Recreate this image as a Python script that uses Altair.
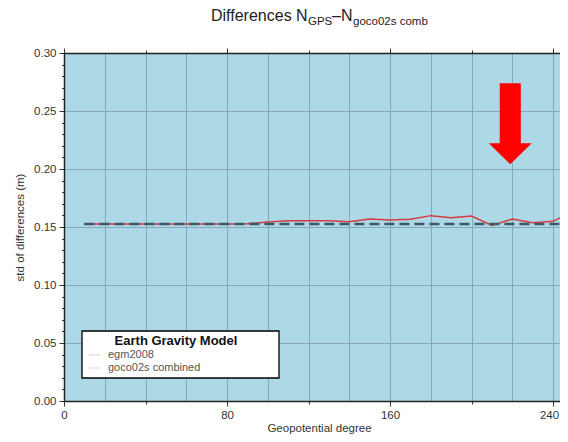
import altair as alt
import pandas as pd

# ---- data ----
degrees = [10, 20, 30, 40, 50, 60, 70, 80, 90, 100, 110, 120, 130, 140, 150, 160,
           170, 180, 190, 200, 210, 220, 230, 240, 250]
goco02s = [0.1526, 0.1526, 0.1526, 0.1526, 0.1526, 0.1526, 0.1526, 0.1526, 0.1528,
           0.1543, 0.1554, 0.1554, 0.1554, 0.1546, 0.1569, 0.1560, 0.1566, 0.1598,
           0.1580, 0.1595, 0.1514, 0.1569, 0.1537, 0.1549, 0.1640]
egm2008 = [0.1526] * len(degrees)

series_names = ["egm2008", "goco02s combined"]
legend_title = "Earth Gravity Model"
arrow_deg = [219]
arrow_std = [0.239]

x_grid = list(range(0, 241, 20))
y_ticks = [round(i / 100, 2) for i in range(31)]

df_goco = pd.DataFrame({"deg": degrees, "std": goco02s})
df_egm = pd.DataFrame({"deg": degrees, "std": egm2008})
df_arrow = pd.DataFrame({"deg": arrow_deg, "std": arrow_std})

FONT = "Liberation Sans"
TXT = "#333333"
GRID = "#86a8b8"

xscale = alt.Scale(domain=[0, 243.4], nice=False, zero=False)
yscale = alt.Scale(domain=[0, 0.3], nice=False)

x_bottom = alt.Axis(
    values=x_grid, format="d", labelFlush=False,
    labelExpr="datum.value % 80 === 0 ? datum.label : ''",
    labelOffset={"condition": {"test": "datum.value === 240", "value": -4}, "value": 0},
    tickSize={"condition": {"test": "datum.value % 80 === 0", "value": 5}, "value": 3},
    tickOpacity={"condition": {"test": "datum.value % 40 === 0", "value": 1}, "value": 0},
    tickColor="#333", domainColor="#222", domainWidth=1.5,
    grid=True, gridColor=GRID, gridWidth=1,
    labelFont=FONT, labelFontSize=11.5, labelColor=TXT, labelPadding=3,
    title="Geopotential degree", titleFont=FONT, titleFontSize=11.5,
    titleFontWeight="normal", titleColor=TXT,
    titleX=255, titleY=30, titleBaseline="alphabetic", titleAnchor="middle",
)
x_top = alt.Axis(
    orient="top", values=x_grid, labels=False, title=None, grid=False,
    tickSize={"condition": {"test": "datum.value % 80 === 0", "value": 5}, "value": 3},
    tickOpacity={"condition": {"test": "datum.value % 40 === 0", "value": 1}, "value": 0},
    tickColor="#333", domainColor="#222", domainWidth=1.5,
)
y_left = alt.Axis(
    values=y_ticks, format=".2f", labelFlush=False,
    labelExpr="round(datum.value * 100) % 5 === 0 ? datum.label : ''",
    tickSize={"condition": {"test": "round(datum.value * 100) % 5 === 0", "value": 5}, "value": 2.5},
    tickColor="#333", domainColor="#222", domainWidth=1.5,
    grid=True, gridColor=GRID, gridWidth=1,
    gridOpacity={"condition": {"test": "round(datum.value * 100) % 5 === 0", "value": 1}, "value": 0},
    labelFont=FONT, labelFontSize=11.5, labelColor=TXT, labelPadding=3,
    title="std of differences (m)", titleFont=FONT, titleFontSize=11.5,
    titleFontWeight="normal", titleColor=TXT, titlePadding=8,
)

red = alt.Chart(df_goco).mark_line(color="#d63a40", strokeWidth=1.5, clip=True).encode(
    x=alt.X("deg:Q", scale=xscale, axis=x_bottom),
    y=alt.Y("std:Q", scale=yscale, axis=y_left),
)
dash = alt.Chart(df_egm).mark_line(color="#3d5866", strokeWidth=2.5, strokeDash=[10, 5], clip=True).encode(
    x=alt.X("deg:Q", scale=xscale, axis=x_top),
    y=alt.Y("std:Q", scale=yscale, axis=y_left),
)

arrow_path = "M -0.26 -1 L 0.26 -1 L 0.26 0.48 L 0.53 0.48 L 0 1 L -0.53 0.48 L -0.26 0.48 Z"
arrow = alt.Chart(df_arrow).mark_point(
    shape=arrow_path, size=6561, filled=True, color="#ff0000", opacity=1, strokeWidth=0
).encode(
    x=alt.X("deg:Q", scale=xscale, axis=None),
    y=alt.Y("std:Q", scale=yscale, axis=y_left),
)

one = alt.Data(values=[{}])

# legend box (drawn in pixels inside the plot area)
leg_box = alt.Chart(one).mark_rect(fill="white", stroke="black", strokeWidth=1.3).encode(
    x=alt.value(18), x2=alt.value(215), y=alt.value(278), y2=alt.value(325)
)
leg_title = alt.Chart(one).mark_text(
    font=FONT, fontSize=13, fontWeight="bold", color="#111", align="center", baseline="middle"
).encode(x=alt.value(112), y=alt.value(288), text=alt.value(legend_title))
leg_sym1 = alt.Chart(one).mark_rule(color="#d0d0d0", strokeWidth=1).encode(
    x=alt.value(25), x2=alt.value(36), y=alt.value(302)
)
leg_sym2 = alt.Chart(one).mark_rule(color="#f5c8c8", strokeWidth=1).encode(
    x=alt.value(25), x2=alt.value(36), y=alt.value(315)
)
leg_lab1 = alt.Chart(one).mark_text(
    font=FONT, fontSize=11, color="#555", align="left", baseline="middle"
).encode(x=alt.value(44), y=alt.value(302), text=alt.value(series_names[0]))
leg_lab2 = alt.Chart(one).mark_text(
    font=FONT, fontSize=11, color="#555", align="left", baseline="middle"
).encode(x=alt.value(44), y=alt.value(315), text=alt.value(series_names[1]))

# title with subscripts
def ttext(s, x, y, size):
    return alt.Chart(one).mark_text(
        font=FONT, fontSize=size, color="#222", align="left", baseline="alphabetic"
    ).encode(x=alt.value(x), y=alt.value(y), text=alt.value(s))

t1 = ttext("Differences N", 147, -32, 16)
t2 = ttext("GPS", 244, -28, 11.5)
t3 = ttext("\u2013N", 268, -32, 16)
t4 = ttext("goco02s comb", 289, -28, 11.5)

chart = alt.layer(
    red, dash, arrow, leg_box, leg_title, leg_sym1, leg_sym2, leg_lab1, leg_lab2,
    t1, t2, t3, t4
).resolve_axis(x="independent").properties(
    width=496, height=348,
    padding={"left": 56, "top": 45, "right": 0, "bottom": 33},
    autosize=alt.AutoSizeParams(type="none"),
).configure(background="white").configure_view(fill="#add8e6", stroke="transparent")

chart.save("out.html", embed_options={"renderer": "svg", "actions": False})
